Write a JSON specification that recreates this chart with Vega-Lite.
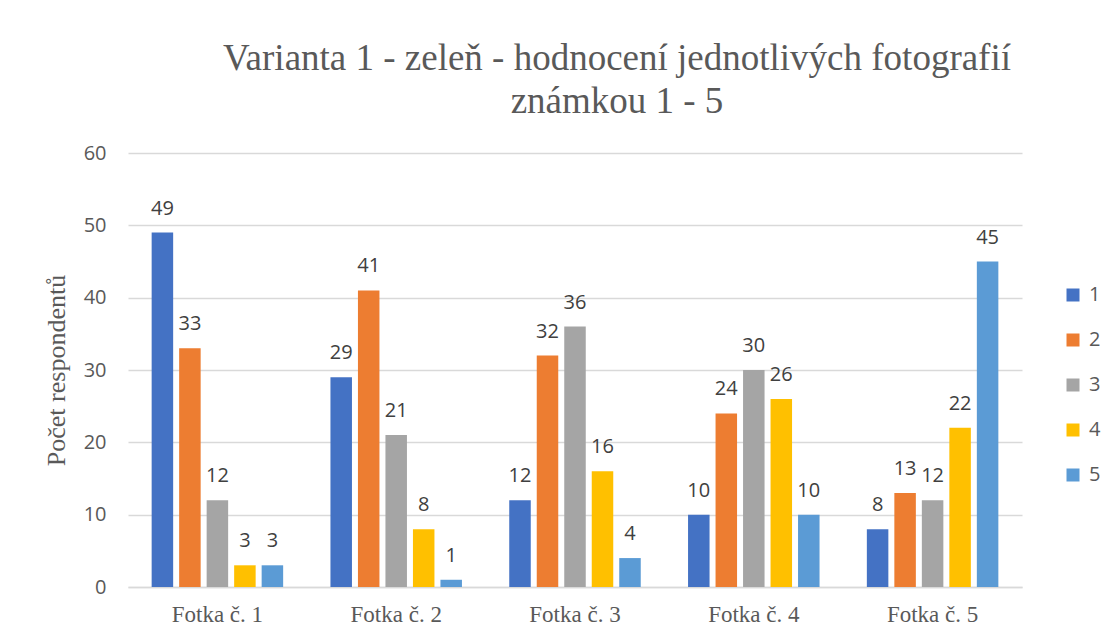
{
  "$schema": "https://vega.github.io/schema/vega-lite/v6.json",
  "width": 894,
  "height": 434,
  "autosize": {"type": "none"},
  "padding": {"left": 128, "top": 153, "right": 88, "bottom": 51},
  "background": "white",
  "title": {
    "text": ["Varianta 1 - zeleň - hodnocení jednotlivých fotografií", "známkou 1 - 5"],
    "font": "Liberation Serif",
    "fontSize": 37,
    "fontWeight": "normal",
    "color": "#595959",
    "anchor": "middle",
    "dx": 42,
    "offset": 22,
    "lineHeight": 43
  },
  "data": {
    "values": [
      {"foto": "Fotka č. 1", "znamka": "1", "pocet": 49},
      {"foto": "Fotka č. 1", "znamka": "2", "pocet": 33},
      {"foto": "Fotka č. 1", "znamka": "3", "pocet": 12},
      {"foto": "Fotka č. 1", "znamka": "4", "pocet": 3},
      {"foto": "Fotka č. 1", "znamka": "5", "pocet": 3},
      {"foto": "Fotka č. 2", "znamka": "1", "pocet": 29},
      {"foto": "Fotka č. 2", "znamka": "2", "pocet": 41},
      {"foto": "Fotka č. 2", "znamka": "3", "pocet": 21},
      {"foto": "Fotka č. 2", "znamka": "4", "pocet": 8},
      {"foto": "Fotka č. 2", "znamka": "5", "pocet": 1},
      {"foto": "Fotka č. 3", "znamka": "1", "pocet": 12},
      {"foto": "Fotka č. 3", "znamka": "2", "pocet": 32},
      {"foto": "Fotka č. 3", "znamka": "3", "pocet": 36},
      {"foto": "Fotka č. 3", "znamka": "4", "pocet": 16},
      {"foto": "Fotka č. 3", "znamka": "5", "pocet": 4},
      {"foto": "Fotka č. 4", "znamka": "1", "pocet": 10},
      {"foto": "Fotka č. 4", "znamka": "2", "pocet": 24},
      {"foto": "Fotka č. 4", "znamka": "3", "pocet": 30},
      {"foto": "Fotka č. 4", "znamka": "4", "pocet": 26},
      {"foto": "Fotka č. 4", "znamka": "5", "pocet": 10},
      {"foto": "Fotka č. 5", "znamka": "1", "pocet": 8},
      {"foto": "Fotka č. 5", "znamka": "2", "pocet": 13},
      {"foto": "Fotka č. 5", "znamka": "3", "pocet": 12},
      {"foto": "Fotka č. 5", "znamka": "4", "pocet": 22},
      {"foto": "Fotka č. 5", "znamka": "5", "pocet": 45}
    ]
  },
  "encoding": {
    "x": {
      "field": "foto",
      "type": "nominal",
      "scale": {"paddingInner": 0, "paddingOuter": 0},
      "axis": {
        "title": null,
        "labelAngle": 0,
        "labelFont": "Liberation Serif",
        "labelFontSize": 23,
        "labelColor": "#595959",
        "ticks": false,
        "labelPadding": 16,
        "domainColor": "#D9D9D9",
        "domainWidth": 1.5,
        "grid": false
      }
    },
    "xOffset": {
      "field": "znamka",
      "type": "nominal",
      "scale": {"paddingInner": 0.218, "paddingOuter": 0.86}
    },
    "y": {
      "field": "pocet",
      "type": "quantitative",
      "scale": {"domain": [0, 60], "nice": false},
      "axis": {
        "title": "Počet respondentů",
        "titleFont": "Liberation Serif",
        "titleFontSize": 26,
        "titleFontWeight": "normal",
        "titleColor": "#595959",
        "titlePadding": 14,
        "values": [0, 10, 20, 30, 40, 50, 60],
        "labelFont": "Open Sans",
        "labelFontSize": 20,
        "labelColor": "#595959",
        "labelPadding": 22,
        "ticks": false,
        "domain": false,
        "grid": true,
        "gridColor": "#D9D9D9",
        "gridWidth": 1.5
      }
    }
  },
  "layer": [
    {
      "mark": {"type": "bar"},
      "encoding": {
        "color": {
          "field": "znamka",
          "type": "nominal",
          "scale": {
            "domain": ["1", "2", "3", "4", "5"],
            "range": ["#4472C4", "#ED7D31", "#A5A5A5", "#FFC000", "#5B9BD5"]
          },
          "legend": {
            "title": null,
            "orient": "none",
            "legendX": 935,
            "legendY": 132,
            "symbolType": "square",
            "symbolSize": 169,
            "symbolStrokeWidth": 0,
            "labelFont": "Open Sans",
            "labelFontSize": 20,
            "labelColor": "#595959",
            "labelOffset": 6,
            "rowPadding": 25
          }
        }
      }
    },
    {
      "mark": {
        "type": "text",
        "font": "Open Sans",
        "fontSize": 20,
        "color": "#404040",
        "baseline": "alphabetic",
        "dy": -18
      },
      "encoding": {
        "text": {"field": "pocet", "type": "quantitative"}
      }
    }
  ],
  "config": {
    "view": {"stroke": null}
  }
}
